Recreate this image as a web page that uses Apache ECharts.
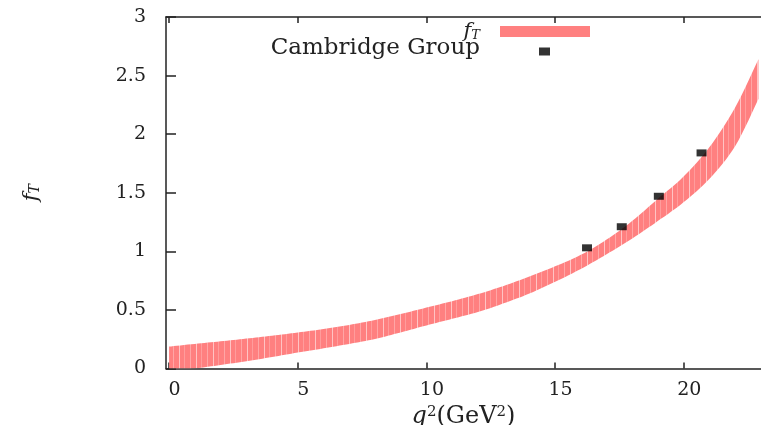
<!DOCTYPE html>
<html>
<head>
<meta charset="utf-8">
<script src="https://cdn.jsdelivr.net/npm/echarts@6/dist/echarts.min.js"></script>
<style>
html,body{margin:0;padding:0;background:#fff;}
#chart{width:761px;height:425px;}
</style>
</head>
<body>
<div id="chart"></div>
<script>
// q^2 grid (GeV^2) for the f_T band
const q2 = [0,1,2,3,4,5,6,7,8,9,10,11,12,13,14,15,16,17,18,19,20,21,22,22.9];
// upper edge of the f_T band
const fUpper = [0.187,0.21,0.232,0.255,0.28,0.307,0.337,0.372,0.414,0.465,0.52,0.575,0.635,0.705,0.785,0.872,0.97,1.10,1.26,1.45,1.64,1.89,2.23,2.64];
// lower edge of the f_T band
const fLower = [-0.02,0.0,0.03,0.062,0.098,0.136,0.172,0.21,0.252,0.308,0.368,0.424,0.482,0.556,0.64,0.74,0.85,0.975,1.11,1.26,1.42,1.62,1.90,2.30];
// Cambridge Group points
const cambQ2 = [16.24,17.59,19.03,20.69];
const cambF = [1.03,1.21,1.47,1.84];
// tick labels
const xTicks = [0,5,10,15,20];
const yTicks = [0,0.5,1,1.5,2,2.5,3];

const FONT = 'DejaVu Serif';
const AX = '#222';

// striped pink pattern (gnuplot-like fill)
const pc = document.createElement('canvas');
pc.width = 17; pc.height = 4;
const pctx = pc.getContext('2d');
pctx.fillStyle = '#ff8080'; pctx.fillRect(0,0,17,4);
pctx.fillStyle = '#ffa6a6'; pctx.fillRect(3,0,1,4);
pctx.fillStyle = '#ffc4c4'; pctx.fillRect(9,0,1,4);
pctx.fillStyle = '#ff9c9c'; pctx.fillRect(14,0,1,4);

// smooth a pixel-space polyline (Catmull-Rom) for drawing only
function smoothPx(P, n) {
  const out = [];
  const L = P.length;
  for (let i = 0; i < L - 1; i++) {
    const p0 = P[Math.max(i - 1, 0)], p1 = P[i], p2 = P[i + 1], p3 = P[Math.min(i + 2, L - 1)];
    for (let s = 0; s < n; s++) {
      const t = s / n, t2 = t * t, t3 = t2 * t;
      const pt = [0, 1].map(k => 0.5 * (2 * p1[k] + (-p0[k] + p2[k]) * t +
        (2 * p0[k] - 5 * p1[k] + 4 * p2[k] - p3[k]) * t2 +
        (-p0[k] + 3 * p1[k] - 3 * p2[k] + p3[k]) * t3));
      out.push(pt);
    }
  }
  out.push(P[L - 1]);
  return out;
}

const chart = echarts.init(document.getElementById('chart'), null, {renderer:'canvas'});

const option = {
  animation: false,
  backgroundColor: '#fff',
  grid: {left: 166, right: 0, top: 17, bottom: 56.5, containLabel: false, outerBoundsMode: 'none'},
  xAxis: [{
    type: 'value', min: -0.12, max: 23, position: 'bottom',
    name: '{i|q}{sup|2}{r|(GeV}{sup|2}{r|)}',
    nameLocation: 'middle', nameGap: 33,
    nameTextStyle: {
      rich: {
        i: {fontFamily: FONT, fontStyle: 'italic', fontSize: 24, color: '#222'},
        r: {fontFamily: FONT, fontSize: 24, color: '#222'},
        sup: {fontFamily: FONT, fontSize: 15, color: '#222', verticalAlign: 'top', padding: [0,0,9,0]}
      }
    },
    axisLine: {show: true, onZero: false, lineStyle: {color: AX, width: 1.5}},
    axisTick: {show: true, inside: true, length: 6, customValues: xTicks, lineStyle: {color: AX, width: 1.5}},
    axisLabel: {show: true, customValues: xTicks, margin: 12, fontFamily: FONT, fontSize: 19, color: '#222', padding: [0,0,0,11]},
    splitLine: {show: false}
  }, {
    type: 'value', min: -0.12, max: 23, position: 'top',
    axisLine: {show: true, onZero: false, lineStyle: {color: AX, width: 1.5}},
    axisTick: {show: true, inside: true, length: 6, customValues: xTicks, lineStyle: {color: AX, width: 1.5}},
    axisLabel: {show: false},
    splitLine: {show: false}
  }],
  yAxis: [{
    type: 'value', min: 0, max: 3, interval: 0.5,
    name: '{i|f}{s|T}',
    nameLocation: 'middle', nameGap: 124, nameRotate: 90,
    nameTextStyle: {
      rich: {
        i: {fontFamily: FONT, fontStyle: 'italic', fontSize: 21, color: '#222'},
        s: {fontFamily: FONT, fontStyle: 'italic', fontSize: 14, color: '#222', verticalAlign: 'bottom', padding: [6,0,0,0]}
      }
    },
    axisLine: {show: true, onZero: false, lineStyle: {color: AX, width: 1.5}},
    axisTick: {show: true, inside: true, length: 10, lineStyle: {color: AX, width: 1.5}},
    axisLabel: {show: true, margin: 20, fontFamily: FONT, fontSize: 19, color: '#222',
      formatter: function (v) { return yTicks.indexOf(v) >= 0 ? String(v) : ''; }},
    splitLine: {show: false}
  }],
  legend: [{
    data: [{name: 'f_T', icon: 'rect', itemStyle: {color: '#ff8080'}}],
    orient: 'vertical', align: 'right', right: 166, top: 16,
    itemWidth: 90, itemHeight: 11,
    formatter: function () { return '{i|f}{s|T}'; },
    textStyle: {
      padding: [0, 15, 0, 0],
      rich: {
        i: {fontFamily: FONT, fontStyle: 'italic', fontSize: 21, color: '#222'},
        s: {fontFamily: FONT, fontStyle: 'italic', fontSize: 13, color: '#222', verticalAlign: 'bottom', padding: [6,0,0,0]}
      }
    },
    selectedMode: false
  }, {
    data: [{name: 'Cambridge Group', icon: 'path://M0,0L0.01,0L0,0.01Z M0,6L11,6L11,14L0,14Z', itemStyle: {color: '#000'}}],
    orient: 'vertical', align: 'right', right: 206, top: 32,
    itemWidth: 11, itemHeight: 14,
    textStyle: {fontFamily: FONT, fontSize: 23, color: '#222', padding: [0, 54, 0, 0]},
    selectedMode: false
  }],
  series: [{
    type: 'custom',
    name: 'f_T',
    clip: true,
    data: [[q2[0], fUpper[0]]],
    encode: {x: 0, y: 1},
    itemStyle: {color: '#ff8080'},
    renderItem: function (params, api) {
      const up = q2.map((q, i) => api.coord([q, fUpper[i]]));
      const lo = q2.map((q, i) => api.coord([q, fLower[i]]));
      const pts = smoothPx(up, 8).concat(smoothPx(lo, 8).reverse());
      const cs = params.coordSys;
      return {
        type: 'polygon',
        shape: {points: pts},
        style: {fill: {image: pc, repeat: 'repeat'}, stroke: null},
        clipPath: {type: 'rect', shape: {x: cs.x, y: cs.y, width: cs.width, height: cs.height}}
      };
    },
    z: 2
  }, {
    type: 'scatter',
    name: 'Cambridge Group',
    symbol: 'rect', symbolSize: [10, 7],
    itemStyle: {color: '#000'},
    data: cambQ2.map((q, i) => [q, cambF[i]]),
    z: 5
  }]
};
chart.setOption(option);
</script>
</body>
</html>
